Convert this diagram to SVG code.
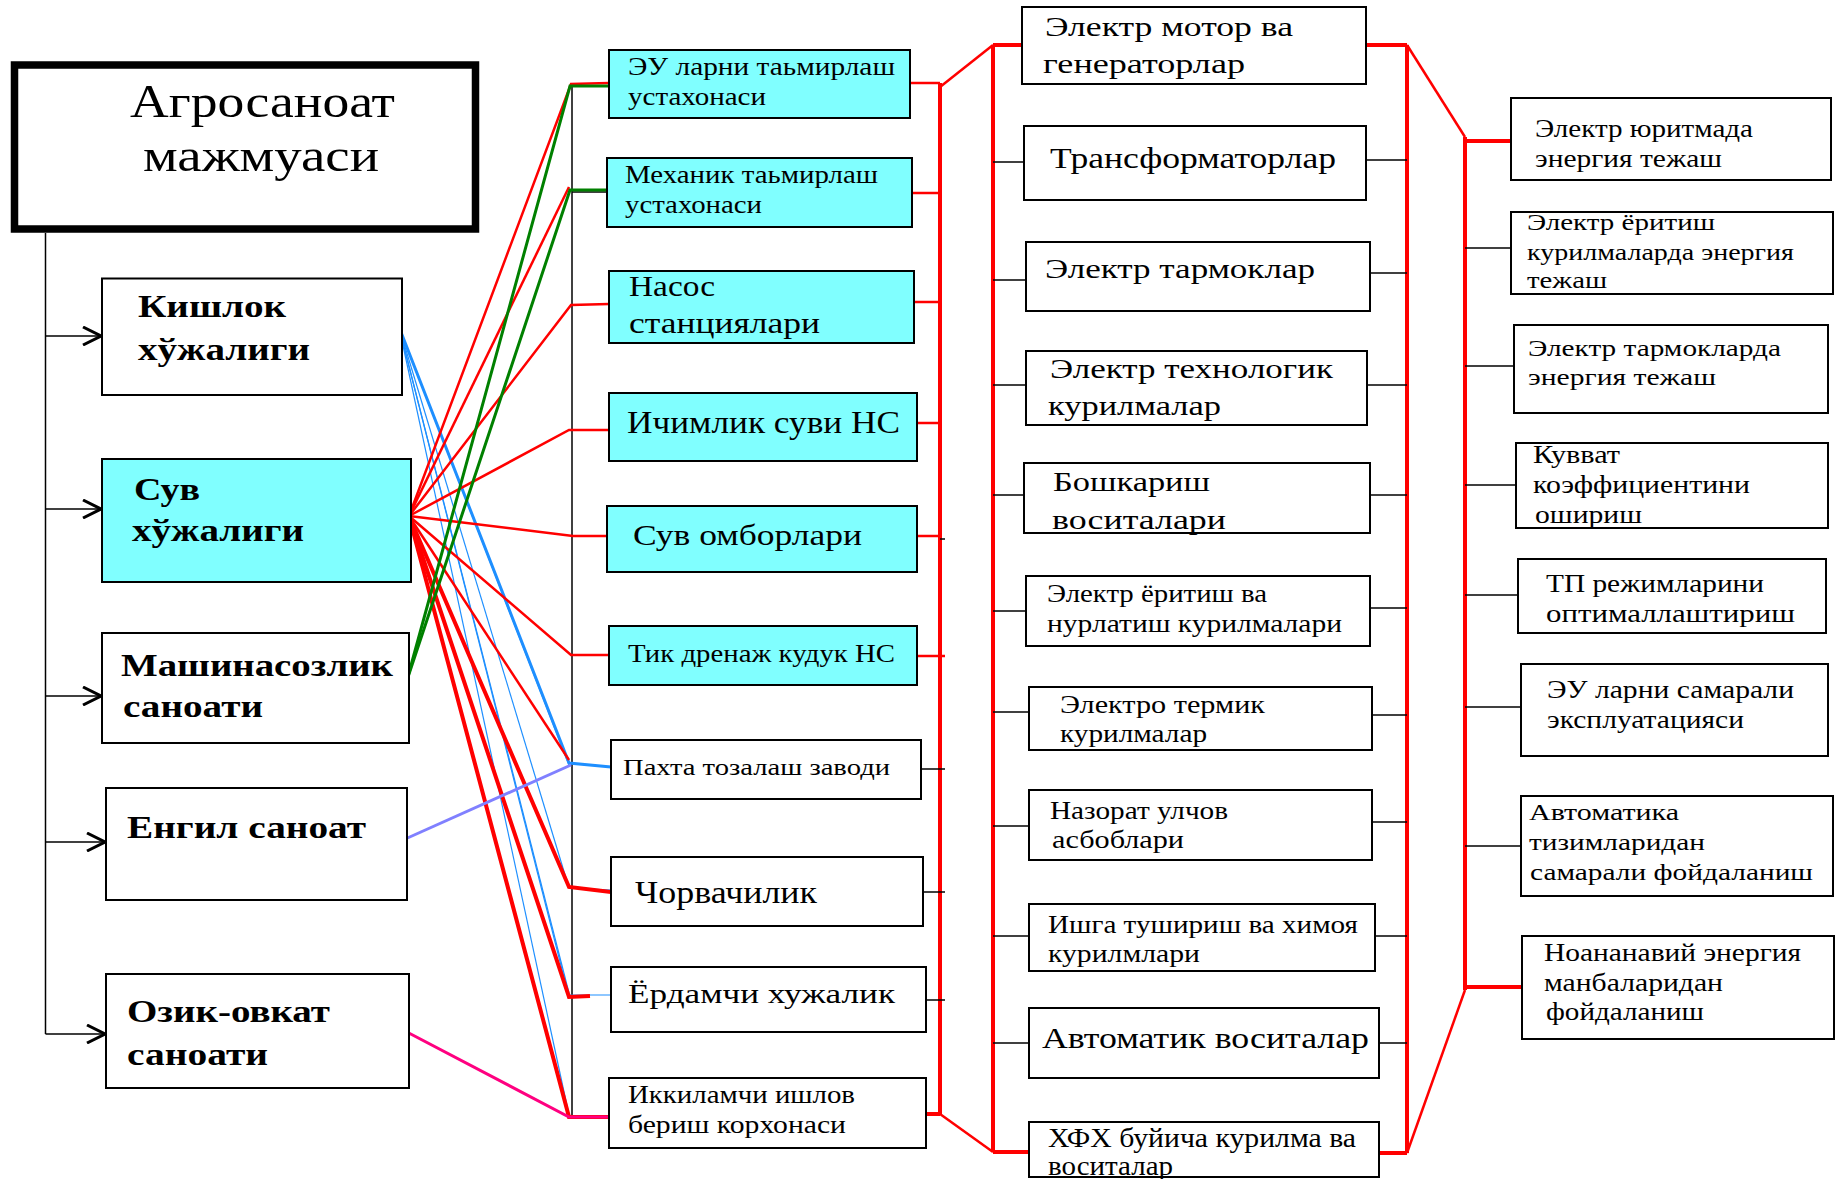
<svg xmlns="http://www.w3.org/2000/svg" width="1836" height="1179" viewBox="0 0 1836 1179">
<style>
text{font-family:"Liberation Serif","Times New Roman",serif;fill:#000}
.b{fill:#fff;stroke:#000;stroke-width:2}
.c{fill:#80FFFF;stroke:#000;stroke-width:2}
.lb{font-weight:bold;font-size:32px}
.k{stroke:#000;stroke-width:1.5;fill:none}
.r{stroke:#FF0000;stroke-width:2.5;fill:none}
.rt{stroke:#FF0000;stroke-width:4;fill:none}
.g{stroke:#008000;stroke-width:3;fill:none}
.bl{stroke:#1E8FFF;stroke-width:1.2;fill:none}
.blt{stroke:#1E8FFF;stroke-width:3;fill:none}
.pu{stroke:#8080FF;stroke-width:3;fill:none}
.pk{stroke:#FF0080;stroke-width:3;fill:none}
</style>
<defs>
<marker id="arr" viewBox="0 0 20 20" refX="19" refY="10" markerWidth="20" markerHeight="20" markerUnits="userSpaceOnUse" orient="auto">
<path d="M1,1 L19,10 L1,19" fill="none" stroke="#000" stroke-width="3"/>
</marker>
</defs>
<rect width="1836" height="1179" fill="#fff"/>

<g id="connectors">
<!-- left tree -->
<path class="k" d="M45.5,233 V1034"/>
<path class="k" d="M45.5,336 H101" marker-end="url(#arr)"/>
<path class="k" d="M45.5,509 H101" marker-end="url(#arr)"/>
<path class="k" d="M45.5,696 H101" marker-end="url(#arr)"/>
<path class="k" d="M45.5,842 H105" marker-end="url(#arr)"/>
<path class="k" d="M45.5,1034 H105" marker-end="url(#arr)"/>
<!-- column 2 left bus -->
<path class="k" d="M572,85 V1117"/>
<path class="k" d="M572,192 H607"/>
<!-- blue from Кишлок -->
<path class="bl" d="M399,327 L569,765"/>
<path class="bl" d="M399,327 L569,888"/>
<path class="bl" d="M399,327 L569,993"/>
<path class="bl" d="M399,327 L569,997"/>
<path class="bl" d="M399,327 L569,1115"/>
<path class="bl" d="M569,888 L611,890"/>
<path class="bl" d="M569,995 L611,995"/>
<path class="blt" d="M399,327 L569,763 L611,767"/>
<!-- red from Сув -->
<path class="r" d="M409,516 L571,84 L609,83"/>
<path class="r" d="M409,516 L569,187"/>
<path class="r" d="M409,516 L571,305 L609,304"/>
<path class="r" d="M409,516 L569,430 L609,430"/>
<path class="r" d="M409,516 L573,536 L607,536"/>
<path class="r" d="M409,516 L571,655 L609,655"/>
<path class="r" d="M409,516 L569,760"/>
<path class="rt" d="M409,516 L569,887 L611,892"/>
<path class="rt" d="M409,516 L569,997 L590,996"/>
<path class="rt" d="M409,516 L569,1117 L609,1117"/>
<!-- green from Машинасозлик -->
<path class="g" d="M407,680 L570,86 L609,86"/>
<path class="g" d="M407,680 L570,190 L609,190"/>
<!-- purple from Енгил -->
<path class="pu" d="M403,840 L571,765"/>
<!-- pink from Озик -->
<path class="pk" d="M405,1031 L569,1117 L609,1117"/>
<!-- column 2 right -->
<path class="rt" d="M940,83 V1114"/>
<path class="r" d="M910,83 H940"/>
<path class="r" d="M912,193 H940"/>
<path class="r" d="M914,302 H940"/>
<path class="r" d="M917,423 H940"/>
<path class="r" d="M917,536 H940"/>
<path class="k" d="M940,539 H945"/>
<path class="r" d="M917,656 H945"/>
<path class="k" d="M921,769 H945"/>
<path class="k" d="M923,892 H945"/>
<path class="k" d="M926,1000 H945"/>
<path class="rt" d="M926,1114 H940"/>
<path class="r" d="M940,87 L993,45"/>
<path class="r" d="M940,1114 L993,1152"/>
<!-- column 3 buses -->
<path class="rt" d="M993,45 V1152"/>
<path class="rt" d="M1407,45 V1153"/>
<path class="rt" d="M993,45 H1022"/>
<path class="rt" d="M1366,45 H1407"/>
<path class="k" d="M993,162 H1024"/>
<path class="k" d="M1366,160 H1407"/>
<path class="k" d="M993,280 H1026"/>
<path class="k" d="M1370,273 H1407"/>
<path class="k" d="M993,385 H1026"/>
<path class="k" d="M1367,385 H1407"/>
<path class="k" d="M993,495 H1024"/>
<path class="k" d="M1370,495 H1407"/>
<path class="k" d="M993,611 H1026"/>
<path class="k" d="M1370,608 H1407"/>
<path class="k" d="M993,712 H1029"/>
<path class="k" d="M1372,715 H1407"/>
<path class="k" d="M993,826 H1029"/>
<path class="k" d="M1372,822 H1407"/>
<path class="k" d="M993,936 H1029"/>
<path class="k" d="M1375,936 H1407"/>
<path class="k" d="M993,1043 H1029"/>
<path class="k" d="M1379,1043 H1407"/>
<path class="rt" d="M993,1152 H1029"/>
<path class="rt" d="M1379,1153 H1407"/>
<path class="r" d="M1407,45 L1465,137"/>
<path class="r" d="M1465,990 L1407,1153"/>
<!-- column 4 bus -->
<path class="rt" d="M1465,137 V990"/>
<path class="rt" d="M1465,141 H1511"/>
<path class="k" d="M1465,248 H1511"/>
<path class="k" d="M1465,366 H1514"/>
<path class="k" d="M1465,485 H1516"/>
<path class="k" d="M1465,595 H1518"/>
<path class="k" d="M1465,707 H1521"/>
<path class="k" d="M1465,846 H1521"/>
<path class="rt" d="M1465,987 H1522"/>
</g>

<g id="agrosanoat">
<rect x="14.5" y="65" width="461" height="164" fill="#fff" stroke="#000" stroke-width="7.5"/>
<text x="130" y="117" font-size="46" textLength="265" lengthAdjust="spacingAndGlyphs">Агросаноат</text>
<text x="143" y="171" font-size="46" textLength="236" lengthAdjust="spacingAndGlyphs">мажмуаси</text>
</g>
<g id="kishlok">
<rect class="b" x="102" y="278.5" width="300" height="116.5"/>
<text class="lb" x="138" y="317" textLength="148" lengthAdjust="spacingAndGlyphs">Кишлок</text>
<text class="lb" x="138" y="360" textLength="172" lengthAdjust="spacingAndGlyphs">хўжалиги</text>
</g>
<g id="suv">
<rect class="c" x="102" y="459" width="309" height="123"/>
<text class="lb" x="134" y="500" textLength="66" lengthAdjust="spacingAndGlyphs">Сув</text>
<text class="lb" x="132" y="541" textLength="172" lengthAdjust="spacingAndGlyphs">хўжалиги</text>
</g>
<g id="mashina">
<rect class="b" x="102" y="633" width="307" height="110"/>
<text class="lb" x="121" y="676" textLength="272" lengthAdjust="spacingAndGlyphs">Машинасозлик</text>
<text class="lb" x="123" y="717" textLength="140" lengthAdjust="spacingAndGlyphs">саноати</text>
</g>
<g id="engil">
<rect class="b" x="106" y="788" width="301" height="112"/>
<text class="lb" x="127" y="838" textLength="239" lengthAdjust="spacingAndGlyphs">Енгил саноат</text>
</g>
<g id="ozik">
<rect class="b" x="106" y="974" width="303" height="114"/>
<text class="lb" x="127" y="1022" textLength="203" lengthAdjust="spacingAndGlyphs">Озик-овкат</text>
<text class="lb" x="127" y="1065" textLength="141" lengthAdjust="spacingAndGlyphs">саноати</text>
</g>

<g id="eu-tamir">
<rect class="c" x="609" y="50" width="301" height="68"/>
<text x="628" y="75" font-size="25" textLength="267" lengthAdjust="spacingAndGlyphs">ЭУ ларни таьмирлаш</text>
<text x="628" y="105" font-size="25" textLength="138" lengthAdjust="spacingAndGlyphs">устахонаси</text>
</g>
<g id="mexanik">
<rect class="c" x="607" y="158" width="305" height="69"/>
<text x="625" y="183" font-size="25" textLength="253" lengthAdjust="spacingAndGlyphs">Механик таьмирлаш</text>
<text x="625" y="213" font-size="25" textLength="137" lengthAdjust="spacingAndGlyphs">устахонаси</text>
</g>
<g id="nasos">
<rect class="c" x="609" y="271" width="305" height="72"/>
<text x="629" y="296" font-size="29" textLength="86" lengthAdjust="spacingAndGlyphs">Насос</text>
<text x="629" y="333" font-size="29" textLength="191" lengthAdjust="spacingAndGlyphs">станциялари</text>
</g>
<g id="ichimlik">
<rect class="c" x="609" y="393" width="308" height="68"/>
<text x="627" y="433" font-size="31" textLength="273" lengthAdjust="spacingAndGlyphs">Ичимлик суви НС</text>
</g>
<g id="suv-omborlari">
<rect class="c" x="607" y="506" width="310" height="66"/>
<text x="633" y="545" font-size="30" textLength="229" lengthAdjust="spacingAndGlyphs">Сув омборлари</text>
</g>
<g id="tik-drenaj">
<rect class="c" x="609" y="626" width="308" height="59"/>
<text x="628" y="662" font-size="25" textLength="267" lengthAdjust="spacingAndGlyphs">Тик дренаж кудук НС</text>
</g>
<g id="paxta">
<rect class="b" x="611" y="740" width="310" height="59"/>
<text x="623" y="775" font-size="24" textLength="267" lengthAdjust="spacingAndGlyphs">Пахта тозалаш заводи</text>
</g>
<g id="chorvachilik">
<rect class="b" x="611" y="857" width="312" height="69"/>
<text x="635" y="903" font-size="31" textLength="182" lengthAdjust="spacingAndGlyphs">Чорвачилик</text>
</g>
<g id="yordamchi">
<rect class="b" x="611" y="967" width="315" height="65"/>
<text x="628" y="1003" font-size="28" textLength="267" lengthAdjust="spacingAndGlyphs">Ёрдамчи хужалик</text>
</g>
<g id="ikkilamchi">
<rect class="b" x="609" y="1078" width="317" height="70"/>
<text x="628" y="1103" font-size="25" textLength="227" lengthAdjust="spacingAndGlyphs">Иккиламчи ишлов</text>
<text x="628" y="1133" font-size="25" textLength="218" lengthAdjust="spacingAndGlyphs">бериш корхонаси</text>
</g>

<g id="motor">
<rect class="b" x="1022" y="7" width="344" height="77"/>
<text x="1045" y="36" font-size="27" textLength="248" lengthAdjust="spacingAndGlyphs">Электр мотор ва</text>
<text x="1043" y="73" font-size="27" textLength="202" lengthAdjust="spacingAndGlyphs">генераторлар</text>
</g>
<g id="transformator">
<rect class="b" x="1024" y="126" width="342" height="74"/>
<text x="1050" y="168" font-size="30" textLength="286" lengthAdjust="spacingAndGlyphs">Трансформаторлар</text>
</g>
<g id="tarmoqlar">
<rect class="b" x="1026" y="242" width="344" height="69"/>
<text x="1045" y="278" font-size="28" textLength="270" lengthAdjust="spacingAndGlyphs">Электр тармоклар</text>
</g>
<g id="texnologik">
<rect class="b" x="1026" y="351" width="341" height="74"/>
<text x="1050" y="378" font-size="28" textLength="283" lengthAdjust="spacingAndGlyphs">Электр технологик</text>
<text x="1048" y="415" font-size="28" textLength="173" lengthAdjust="spacingAndGlyphs">курилмалар</text>
</g>
<g id="boshqarish">
<rect class="b" x="1024" y="463" width="346" height="70"/>
<text x="1053" y="491" font-size="28" textLength="157" lengthAdjust="spacingAndGlyphs">Бошкариш</text>
<text x="1052" y="529" font-size="28" textLength="174" lengthAdjust="spacingAndGlyphs">воситалари</text>
</g>
<g id="yoritish">
<rect class="b" x="1026" y="576" width="344" height="70"/>
<text x="1047" y="602" font-size="25" textLength="220" lengthAdjust="spacingAndGlyphs">Электр ёритиш ва</text>
<text x="1047" y="632" font-size="25" textLength="295" lengthAdjust="spacingAndGlyphs">нурлатиш курилмалари</text>
</g>
<g id="termik">
<rect class="b" x="1029" y="687" width="343" height="63"/>
<text x="1060" y="713" font-size="25" textLength="205" lengthAdjust="spacingAndGlyphs">Электро  термик</text>
<text x="1060" y="742" font-size="25" textLength="147" lengthAdjust="spacingAndGlyphs">курилмалар</text>
</g>
<g id="nazorat">
<rect class="b" x="1029" y="790" width="343" height="70"/>
<text x="1050" y="819" font-size="26" textLength="178" lengthAdjust="spacingAndGlyphs">Назорат улчов</text>
<text x="1052" y="848" font-size="26" textLength="132" lengthAdjust="spacingAndGlyphs">асбоблари</text>
</g>
<g id="ishga">
<rect class="b" x="1029" y="904" width="346" height="67"/>
<text x="1048" y="933" font-size="25" textLength="310" lengthAdjust="spacingAndGlyphs">Ишга тушириш ва химоя</text>
<text x="1048" y="962" font-size="25" textLength="152" lengthAdjust="spacingAndGlyphs">курилмлари</text>
</g>
<g id="avtomatik">
<rect class="b" x="1029" y="1008" width="350" height="70"/>
<text x="1042" y="1048" font-size="30" textLength="327" lengthAdjust="spacingAndGlyphs">Автоматик воситалар</text>
</g>
<g id="xfx">
<rect class="b" x="1029" y="1122" width="350" height="55"/>
<text x="1048" y="1147" font-size="27" textLength="308" lengthAdjust="spacingAndGlyphs">ХФХ буйича курилма ва</text>
<text x="1048" y="1175" font-size="27" textLength="125" lengthAdjust="spacingAndGlyphs">воситалар</text>
</g>

<g id="yuritma">
<rect class="b" x="1511" y="98" width="320" height="82"/>
<text x="1535" y="137" font-size="25" textLength="218" lengthAdjust="spacingAndGlyphs">Электр юритмада</text>
<text x="1535" y="167" font-size="25" textLength="187" lengthAdjust="spacingAndGlyphs">энергия тежаш</text>
</g>
<g id="yoritish-tejash">
<rect class="b" x="1511" y="212" width="322" height="82"/>
<text x="1527" y="230" font-size="24" textLength="188" lengthAdjust="spacingAndGlyphs">Электр ёритиш</text>
<text x="1527" y="260" font-size="24" textLength="267" lengthAdjust="spacingAndGlyphs">курилмаларда энергия</text>
<text x="1527" y="288" font-size="24" textLength="80" lengthAdjust="spacingAndGlyphs">тежаш</text>
</g>
<g id="tarmoq-tejash">
<rect class="b" x="1514" y="325" width="314" height="88"/>
<text x="1528" y="356" font-size="24" textLength="253" lengthAdjust="spacingAndGlyphs">Электр тармокларда</text>
<text x="1528" y="385" font-size="24" textLength="188" lengthAdjust="spacingAndGlyphs">энергия тежаш</text>
</g>
<g id="quvvat">
<rect class="b" x="1516" y="443" width="312" height="85"/>
<text x="1533" y="463" font-size="25" textLength="87" lengthAdjust="spacingAndGlyphs">Кувват</text>
<text x="1533" y="493" font-size="25" textLength="217" lengthAdjust="spacingAndGlyphs">коэффициентини</text>
<text x="1535" y="523" font-size="25" textLength="107" lengthAdjust="spacingAndGlyphs">ошириш</text>
</g>
<g id="tp">
<rect class="b" x="1518" y="559" width="308" height="74"/>
<text x="1546" y="592" font-size="25" textLength="218" lengthAdjust="spacingAndGlyphs">ТП режимларини</text>
<text x="1546" y="622" font-size="25" textLength="249" lengthAdjust="spacingAndGlyphs">оптималлаштириш</text>
</g>
<g id="eu-samarali">
<rect class="b" x="1521" y="664" width="307" height="92"/>
<text x="1547" y="698" font-size="25" textLength="247" lengthAdjust="spacingAndGlyphs">ЭУ ларни самарали</text>
<text x="1547" y="728" font-size="25" textLength="197" lengthAdjust="spacingAndGlyphs">эксплуатацияси</text>
</g>
<g id="avtomatika">
<rect class="b" x="1521" y="796" width="312" height="100"/>
<text x="1529" y="820" font-size="24" textLength="150" lengthAdjust="spacingAndGlyphs">Автоматика</text>
<text x="1529" y="850" font-size="24" textLength="176" lengthAdjust="spacingAndGlyphs">тизимларидан</text>
<text x="1530" y="880" font-size="24" textLength="283" lengthAdjust="spacingAndGlyphs">самарали фойдаланиш</text>
</g>
<g id="noananaviy">
<rect class="b" x="1522" y="936" width="312" height="103"/>
<text x="1544" y="961" font-size="25" textLength="257" lengthAdjust="spacingAndGlyphs">Ноананавий энергия</text>
<text x="1544" y="991" font-size="25" textLength="179" lengthAdjust="spacingAndGlyphs">манбаларидан</text>
<text x="1546" y="1020" font-size="25" textLength="158" lengthAdjust="spacingAndGlyphs">фойдаланиш</text>
</g>
</svg>
